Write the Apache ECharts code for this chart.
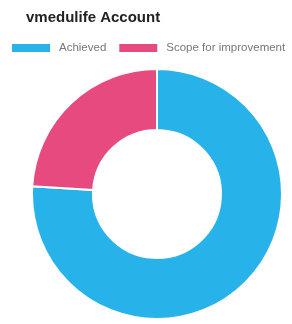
<!DOCTYPE html>
<html><head><meta charset="utf-8">
<script src="https://cdn.jsdelivr.net/npm/echarts@6/dist/echarts.min.js"></script>
<style>html,body{margin:0;padding:0;background:#fff}#c{width:292px;height:324px}</style>
</head><body><div id="c"></div>
<script>
const titleText = "vmedulife Account";
const categories = ["Achieved", "Scope for improvement"];
const values = [76, 24];
const colors = ["#27b2ea", "#e64a7e"];

const chart = echarts.init(document.getElementById('c'), null, {renderer: 'canvas'});
chart.setOption({
  animation: false,
  backgroundColor: '#fff',
  title: {
    text: titleText, left: 21, top: 5,
    textStyle: {fontFamily: 'Liberation Sans, Arial, sans-serif', fontSize: 15, fontWeight: 'bold', color: '#222'}
  },
  legend: {
    left: 10, top: 42, width: 290, padding: 0, icon: 'rect', itemWidth: 40, itemHeight: 10, itemGap: 11,
    textStyle: {fontFamily: 'Liberation Sans, Arial, sans-serif', fontSize: 11.5, color: '#777', padding: [0, 0, 0, 3]},
    data: categories
  },
  color: colors,
  series: [{
    type: 'pie', startAngle: 90, clockwise: true,
    center: [157, 194], radius: [64, 125],
    label: {show: false}, labelLine: {show: false},
    itemStyle: {borderColor: '#fff', borderWidth: 2},
    data: categories.map((n, i) => ({name: n, value: values[i]}))
  }]
});
</script></body></html>
